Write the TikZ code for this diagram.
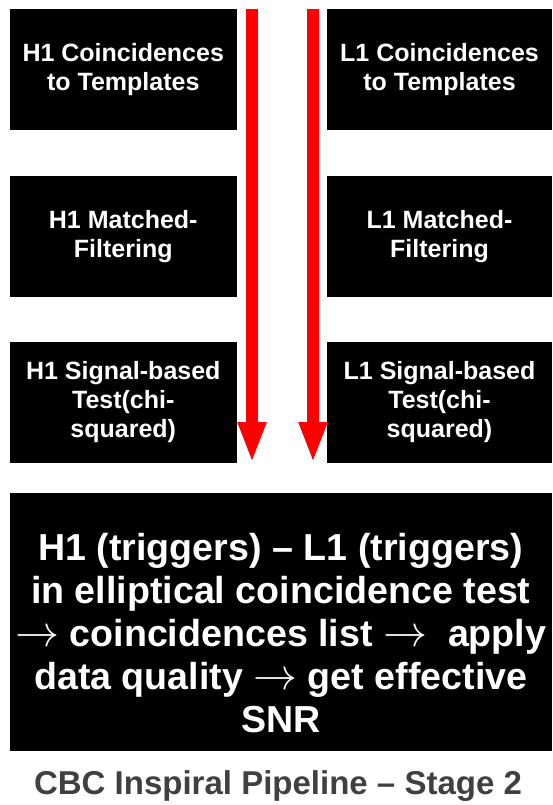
\documentclass[tikz,border=0pt]{standalone}
\usepackage{graphicx}
\usepackage{fontspec}
\setmainfont{Liberation Sans}
\usetikzlibrary{arrows.meta}
\definecolor{captiongray}{HTML}{404040}
\newcommand{\thinrarrow}{\scalebox{4.4}{\fontsize{10}{12}\selectfont$\rightarrow$}}
\tikzset{
  box/.style={fill=black, draw=none, text=white, align=center, inner sep=0pt,
    font=\bfseries\fontsize{25}{29}\selectfont},
  bigbox/.style={fill=black, draw=none, inner sep=0pt},
  bigtext/.style={text=white, align=center, inner sep=0pt,
    font=\bfseries\fontsize{37.6}{43}\selectfont},
  redarrow/.style={draw=red, line width=12pt, -{Triangle[length=41pt,width=26pt]}},
}
\begin{document}
\begin{tikzpicture}[x=1pt,y=-1pt]
\useasboundingbox (0,0) rectangle (552,805);
% left column
\node[box, minimum width=227.5pt, minimum height=121pt] (h1c) at (123.25,70) {H1 Coincidences\\to Templates};
\node[box, minimum width=227.5pt, minimum height=121pt] (h1m) at (123.25,236.5) {H1 Matched-\\Filtering};
\node[box, minimum width=227.5pt, minimum height=121pt] (h1s) at (123.25,402.5) {H1 Signal-based\\Test(chi-\\squared)};
% right column
\node[box, minimum width=225pt, minimum height=121pt] (l1c) at (439.5,70) {L1 Coincidences\\to Templates};
\node[box, minimum width=225pt, minimum height=121pt] (l1m) at (439.5,236.5) {L1 Matched-\\Filtering};
\node[box, minimum width=225pt, minimum height=121pt] (l1s) at (439.5,402.5) {L1 Signal-based\\Test(chi-\\squared)};
% red arrows
\coordinate (la) at (252,9.5);
\coordinate (lb) at (252,463);
\coordinate (ra) at (313,9.5);
\coordinate (rb) at (313,463);
\draw[redarrow] (la) -- (lb);
\draw[redarrow] (ra) -- (rb);
% big box
\node[bigbox, minimum width=542.5pt, minimum height=258pt] (coinc) at (280.75,622) {};
\node[bigtext] (coinctext) at ([yshift=-11pt]coinc.center)
 {H1 (triggers) – L1 (triggers)\\in elliptical coincidence test\\\thinrarrow{} coincidences list \thinrarrow\ \ apply\\data quality \thinrarrow{} get effective\\SNR};
% caption
\node[text=captiongray, font=\bfseries\fontsize{33}{38}\selectfont, inner sep=0pt] (cap) at (278,786) {CBC Inspiral Pipeline – Stage 2};
\end{tikzpicture}
\end{document}
